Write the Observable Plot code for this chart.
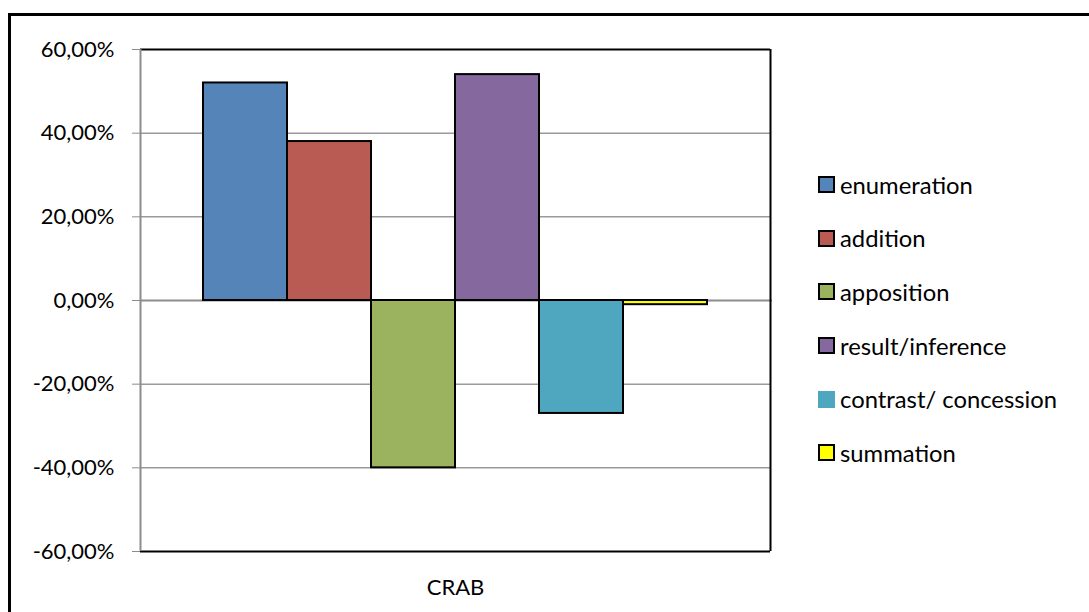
<!DOCTYPE html>
<html>
<head>
<meta charset="utf-8">
<script src="https://cdn.jsdelivr.net/npm/d3@7"></script>
<script src="https://cdn.jsdelivr.net/npm/@observablehq/plot@0.6"></script>
<style>
  html, body { margin: 0; padding: 0; background: #fff; overflow: hidden; }
  #page { position: relative; width: 1089px; height: 612px; font-family: Lato, "Open Sans", sans-serif; }
  #border { position: absolute; left: 8px; top: 13px; width: 1100px; height: 620px; border: 3px solid #000; box-sizing: border-box; }
  #chart { position: absolute; left: 0; top: 0; }
  #legend { position: absolute; left: 818px; top: 158px; }
  .item { display: flex; align-items: center; height: 53.6px; font-size: 23.8px; font-weight: 400; color: #000; }
  .swatch { width: 13px; height: 13px; margin-right: 5px; border: 2px solid #000; }
  .swatch.noborder { border-color: transparent; }
</style>
</head>
<body>
<div id="page">
  <div id="border"></div>
  <div id="chart"></div>
  <div id="legend"></div>
</div>
<script>
// One category, six connective types, shares as fractions
const category = "CRAB";
const series = ["enumeration", "addition", "apposition", "result/inference", "contrast/ concession", "summation"];
const values = [0.52, 0.38, -0.40, 0.54, -0.27, -0.01];
const colors = ["#5585B8", "#B95B53", "#9BB25F", "#85699E", "#4EA7BF", "#FFFF00"];
const yTicks = [-0.6, -0.4, -0.2, 0, 0.2, 0.4, 0.6];

const rows = series.map((s, i) => ({series: s, index: i, value: values[i]}));
const pct = v => (v * 100).toFixed(2).replace(".", ",") + "%";

const chart = Plot.plot({
  width: 790,
  height: 612,
  marginLeft: 140,
  marginRight: 20,
  marginTop: 49,
  marginBottom: 61,
  style: {fontFamily: "Lato, 'Open Sans', sans-serif", fontSize: "22px", color: "#000", background: "transparent", overflow: "visible"},
  x: {domain: [-0.75, 6.75], axis: null},
  y: {domain: [-0.6, 0.6], ticks: yTicks, tickFormat: pct, label: null, tickSize: 8, tickPadding: 18},
  color: {domain: series, range: colors},
  marks: [
    Plot.ruleY(yTicks.filter(d => d !== 0 && Math.abs(d) !== 0.6), {stroke: "#9a9a9a", strokeWidth: 1.5}),
    Plot.ruleY([0], {stroke: "#8c8c8c", strokeWidth: 2, insetRight: -2}),
    Plot.rectY(rows, {x1: "index", x2: d => d.index + 1, y1: 0, y2: "value", fill: "series", stroke: "#000", strokeWidth: 2}),
    Plot.ruleY([0.6, -0.6], {stroke: "#000", strokeWidth: 2}),
    Plot.ruleX([6.75], {stroke: "#000", strokeWidth: 2}),
    Plot.ruleX([-0.75], {stroke: "#8c8c8c", strokeWidth: 2}),
    Plot.axisY({ticks: yTicks, tickFormat: pct, tickSize: 8, tickPadding: 18, stroke: "#8c8c8c", fontSize: 22}),
    Plot.text([category], {x: 3, y: -0.6, dy: 36, text: d => d, fontSize: 22})
  ]
});
document.getElementById("chart").append(chart);

// Legend on the right
const legend = document.getElementById("legend");
series.forEach((s, i) => {
  const item = document.createElement("div");
  item.className = "item";
  const sw = document.createElement("span");
  sw.className = "swatch" + (s === "contrast/ concession" ? " noborder" : "");
  sw.style.background = colors[i];
  const label = document.createElement("span");
  label.textContent = s;
  item.append(sw, label);
  legend.append(item);
});
</script>
</body>
</html>
